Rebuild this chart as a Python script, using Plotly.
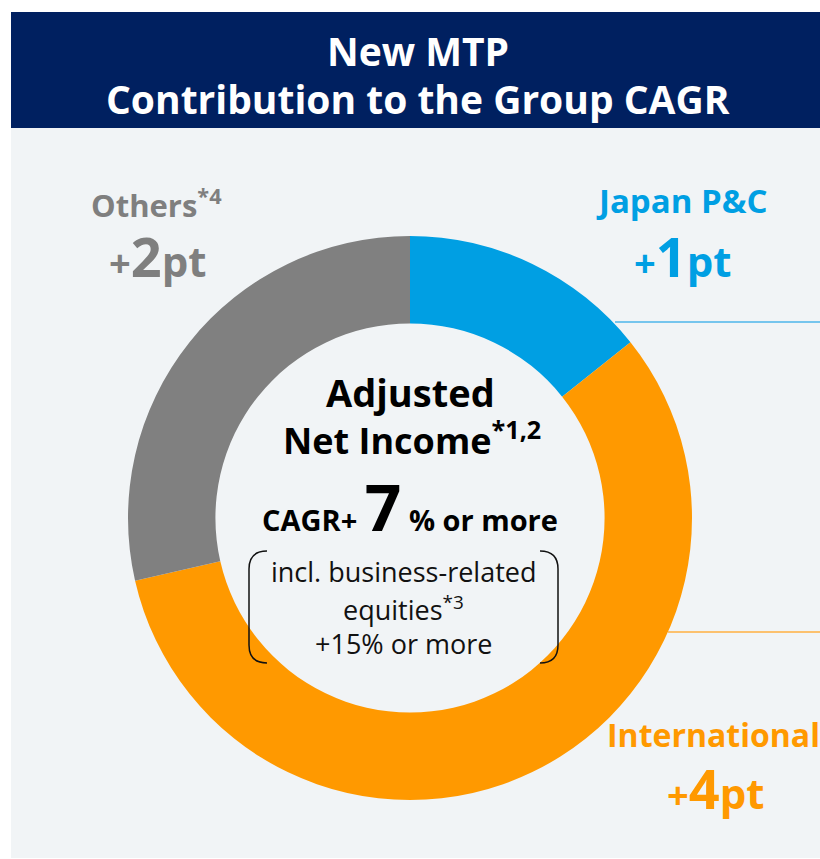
import plotly.graph_objects as go

# ---- data ----
segments = ["Japan P&C", "International", "Others"]
contrib_pt = [1, 4, 2]
seg_notes = ["", "", "*4"]
colors = ["#009FE3", "#FF9900", "#808080"]
label_colors = ["#009FE3", "#FF9900", "#7F7F7F"]
total_cagr = 7

W, H = 820, 859
FONT = "Open Sans"

fig = go.Figure()

# donut
cx, cy, r = 410, 518, 282
def px(sx):
    return sx / W
def py(sy):
    return 1 - sy / H

fig.add_trace(go.Pie(
    labels=segments, values=contrib_pt, sort=False, direction="clockwise",
    rotation=0, hole=0.69, textinfo="none", hoverinfo="label+value",
    marker=dict(colors=colors, line=dict(width=0)),
    domain=dict(x=[px(cx - r), px(cx + r)], y=[py(cy + r), py(cy - r)]),
    showlegend=False,
))

shapes = [
    dict(type="rect", x0=11, x1=820, y0=128, y1=858, fillcolor="#F1F4F6", line=dict(width=0), layer="below"),
    dict(type="rect", x0=11, x1=820, y0=12, y1=128, fillcolor="#002060", line=dict(width=0), layer="below"),
    dict(type="line", x0=615, x1=820, y0=322, y1=322, line=dict(color="#4DB6EA", width=1.5)),
    dict(type="line", x0=668, x1=820, y0=632, y1=632, line=dict(color="#FFB040", width=1.5)),
    dict(type="path", path="M 267,551 Q 249,551 249,569 L 249,645 Q 249,663 267,663",
         line=dict(color="#111111", width=1.5)),
    dict(type="path", path="M 540,551 Q 558,551 558,569 L 558,645 Q 558,663 540,663",
         line=dict(color="#111111", width=1.5)),
]

def ann(x, y, text, size, color, bold=True, xanchor="center"):
    return dict(x=x, y=y, xref="x", yref="y", text=text, showarrow=False,
                xanchor=xanchor, yanchor="middle",
                font=dict(family=FONT, size=size, color=color, weight="bold" if bold else "normal"))

def pt_label(v):
    return (f"<span style='font-size:38px'>+</span><span style='font-size:54px'>{v}</span>"
            f"<span style='font-size:42px'>pt</span>")

label_pos = [(681, 200, 682, 256), (713, 734, 715, 788), (156, 203, 157, 256)]
annotations = [
    ann(418, 50, "New MTP", 39, "white"),
    ann(418, 98, "Contribution to the Group CAGR", 39, "white"),
]
label_sizes = [33, 32, 31]
for name, v, note, c, (lx, ly, vx, vy), fs in zip(segments, contrib_pt, seg_notes, label_colors, label_pos, label_sizes):
    txt = name + (f"<sup>{note}</sup>" if note else "")
    annotations.append(ann(lx, ly, txt, fs, c))
    annotations.append(ann(vx, vy, pt_label(v), 42, c))

annotations += [
    ann(410, 392, "Adjusted", 38, "black"),
    ann(412, 438, "Net Income<sup>*1,2</sup>", 36, "black"),
    ann(410, 506, f"CAGR+ <span style='font-size:64px'>{total_cagr}</span> % or more", 29, "black"),
    ann(403, 571, "incl. business-related", 27, "#111111", bold=False),
    ann(403, 608, "equities<sup>*3</sup>", 27, "#111111", bold=False),
    ann(403, 643, "+15% or more", 27, "#111111", bold=False),
]

fig.update_layout(
    width=W, height=H, margin=dict(l=0, r=0, t=0, b=0),
    paper_bgcolor="white", plot_bgcolor="rgba(0,0,0,0)",
    xaxis=dict(range=[0, W], visible=False, fixedrange=True),
    yaxis=dict(range=[H, 0], visible=False, fixedrange=True),
    shapes=shapes, annotations=annotations,
)

fig.write_html("out.html", config={"displayModeBar": False},
               post_script="document.body.style.margin='0';document.body.style.overflow='hidden';")
